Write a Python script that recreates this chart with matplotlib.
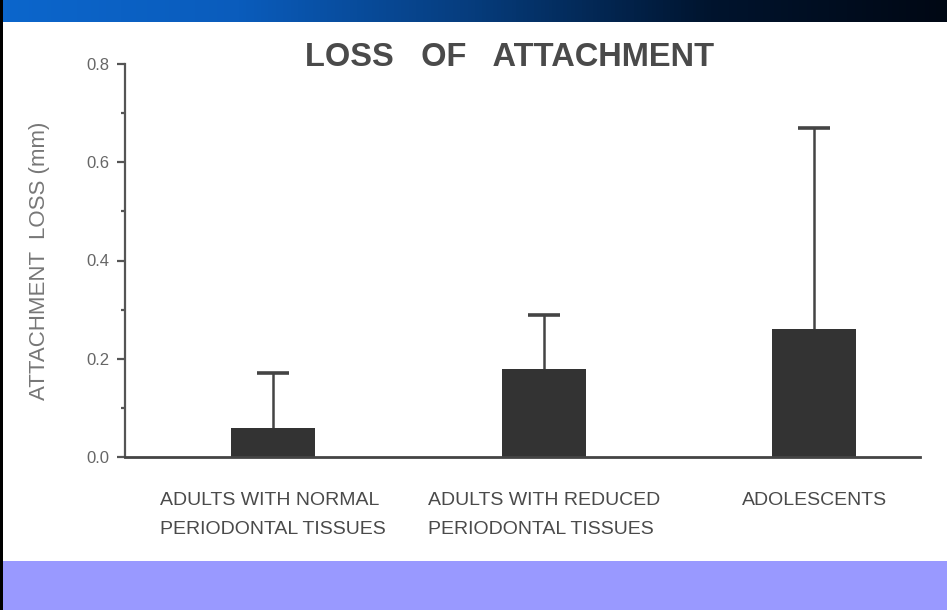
import numpy as np
import matplotlib
matplotlib.use("Agg")
import matplotlib.pyplot as plt
from matplotlib.colors import LinearSegmentedColormap

categories = ["ADULTS WITH NORMAL\nPERIODONTAL TISSUES",
              "ADULTS WITH REDUCED\nPERIODONTAL TISSUES",
              "ADOLESCENTS"]
means = [0.06, 0.18, 0.26]
upper_err = [0.11, 0.11, 0.41]
yticks = [0.0, 0.2, 0.4, 0.6, 0.8]
yticklabels = ["0.0", "0.2", "0.4", "0.6", "0.8"]
title = "LOSS   OF   ATTACHMENT"
ylabel = "ATTACHMENT  LOSS (mm)"

FONT = ["Liberation Sans", "DejaVu Sans"]

W, H = 947, 610
fig = plt.figure(figsize=(W / 100, H / 100), dpi=100)
fig.patch.set_facecolor("white")

# background panels
bg = fig.add_axes([0, 0, 1, 1], zorder=-10)
bg.axis("off")
bg.add_patch(plt.Rectangle((0, 561), W, H - 561, color="#9999ff", lw=0))
bg.add_patch(plt.Rectangle((0, 0), 3, H, color="#000000", lw=0))
cmap = LinearSegmentedColormap.from_list("band", ["#0c66cc", "#0a5cbc", "#063c7c", "#00142e", "#000814"])
grad = np.linspace(0, 1, 256).reshape(1, -1)
bg.imshow(grad, cmap=cmap, aspect="auto", extent=(3, W, 22, 0))
bg.set_xlim(0, W)
bg.set_ylim(H, 0)

# main axes: x 125..920, y 64..457 (0.8..0.0)
left, right = 125 / W, 920 / W
bottom, top = 1 - 457 / H, 1 - 64 / H
ax = fig.add_axes([left, bottom, right - left, top - bottom])
ax.set_facecolor("none")
x = np.arange(len(categories))
tops = np.array(means) + np.array(upper_err)
ax.bar(x, means, width=0.31, color="#333333", zorder=2)
ax.vlines(x, means, tops, color="#444444", lw=1.8, zorder=1)
ax.plot(x, tops, ls="none", marker="_", ms=23, mew=2.6, color="#444444", zorder=1)
ax.set_xlim(-0.547, 2.39)
ax.set_ylim(0, 0.8)
for s in ["top", "right"]:
    ax.spines[s].set_visible(False)
ax.spines["left"].set_color("#555555")
ax.spines["bottom"].set_color("#444444")
ax.spines["left"].set_linewidth(1.6)
ax.spines["bottom"].set_linewidth(2.0)
ax.set_yticks(yticks)
ax.set_yticklabels(yticklabels, fontsize=12, color="#666666", family=FONT)
ax.set_yticks([0.1, 0.3, 0.5, 0.7], minor=True)
ax.tick_params(axis="y", which="major", length=6, width=1.6, color="#555555", pad=5)
ax.tick_params(axis="y", which="minor", length=3, width=1.6, color="#555555")
ax.set_xticks(x)
ax.set_xticklabels(categories, fontsize=14, color="#4a4a4a", family=FONT,
                   multialignment="left", linespacing=1.95)
ax.tick_params(axis="x", length=0, pad=25)
ax.set_ylabel(ylabel, fontsize=16, color="#777777", family=FONT, labelpad=26)

fig.text(510 / W, 1 - 57 / H, title, ha="center", va="center",
         fontsize=23.5, fontweight="bold", color="#4a4a4a", family=FONT)

fig.savefig("out.png", dpi=100, facecolor=fig.get_facecolor())
